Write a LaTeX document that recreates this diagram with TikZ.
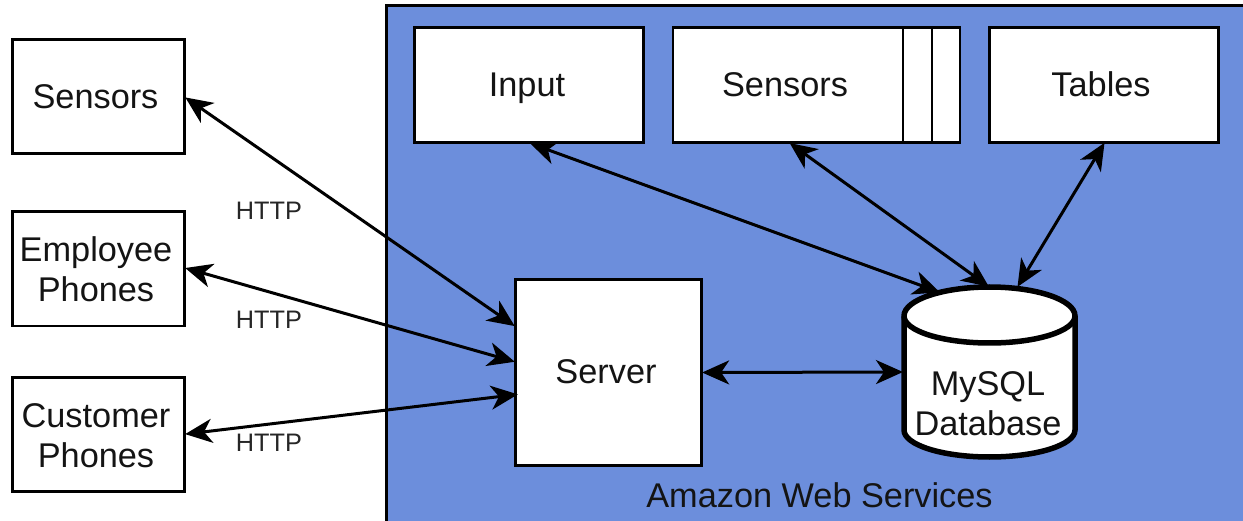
\documentclass[tikz,border=0pt]{standalone}
\usepackage{fontspec}
\setmainfont{Liberation Sans}
\usetikzlibrary{arrows.meta}
\definecolor{awsblue}{HTML}{6C8EDC}
\tikzset{
  x=1pt,y=-1pt,
  box/.style={draw=black,line width=2.8pt,fill=white,inner sep=0pt,minimum height=114.5pt,minimum width=172.5pt},
  topbox/.style={box,minimum width=229.5pt},
  txt/.style={inner sep=0pt,align=center,font=\fontsize{34.3}{40}\selectfont,text=black!92},
  link/.style={draw=black,line width=3pt,{Stealth[length=27pt,width=24pt,inset=8pt]}-{Stealth[length=27pt,width=24pt,inset=8pt]},shorten <=-1pt,shorten >=-1pt},
  lbl/.style={inner sep=0pt,font=\fontsize{25.3}{30}\selectfont,text=black!85},
  dbline/.style={draw=black,line width=5.5pt}
}
\begin{document}
\begin{tikzpicture}
\useasboundingbox (0,0) rectangle (1243,521);
\clip (0,0) rectangle (1243,521);
\fill[white] (0,0) rectangle (1243,521);
\draw[black,line width=3pt,fill=awsblue] (386,6) rectangle (1260,540);
\node[box] (sl) at (98.5,96.5) {};
\node[txt] (sltxt) at (95.5,97) {Sensors};
\node[box] (el) at (98.5,268.8) {};
\node[txt] (eltxt) at (96,269) {Employee\\Phones};
\node[box] (cl) at (98.5,434.5) {};
\node[txt] (cltxt) at (96,436) {Customer\\Phones};
\node[topbox] (input) at (529,85) {};
\node[txt,anchor=base] (inputtxt) at (527,97) {Input};
\node[box,minimum width=287pt] (sensors) at (816.5,85) {};
\node[txt,anchor=base] (sensorstxt) at (785,97) {Sensors};
\draw[black,line width=2.8pt] (903,27) -- (903,142);
\draw[black,line width=2.8pt] (932,27) -- (932,142);
\node[topbox] (tables) at (1104,85) {};
\node[txt,anchor=base] (tablestxt) at (1101,97) {Tables};
\node[box,minimum width=186.5pt,minimum height=186.5pt] (server) at (608.5,372.5) {};
\node[txt] (servertxt) at (606,372) {Server};
% database cylinder
\draw[dbline,fill=white] (904,316) -- (904,430) arc[start angle=180,end angle=360,x radius=85.5,y radius=-27] -- (1075,316) arc[start angle=0,end angle=180,x radius=85.5,y radius=-29] -- cycle;
\draw[dbline] (904,316) arc[start angle=180,end angle=360,x radius=85.5,y radius=-27];
\node[txt] (db) at (988,404) {MySQL\\Database};
\coordinate (dbw) at (902,372);
\coordinate (dbi) at (939,292);
\coordinate (dbs) at (988,286);
\coordinate (dbt) at (1018,286);
\path[link] ([yshift=-1.5pt]sl.east) -- ([yshift=47pt]server.west);
\path[link] ([yshift=0.5pt]el.east) -- ([yshift=11pt]server.west);
\path[link] ([yshift=0.5pt]cl.east) -- ([xshift=3pt,yshift=-22pt]server.west);
\path[link] (server.east) -- (dbw);
\path[link] ([xshift=2pt]input.south) -- (dbi);
\path[link] ([xshift=-26pt]sensors.south) -- (dbs);
\path[link] (tables.south) -- (dbt);
\node[lbl] (h1) at (269,211) {HTTP};
\node[lbl] (h2) at (269,320) {HTTP};
\node[lbl] (h3) at (269,443) {HTTP};
\node[txt] (aws) at (819.5,495) {Amazon Web Services};
\end{tikzpicture}
\end{document}
